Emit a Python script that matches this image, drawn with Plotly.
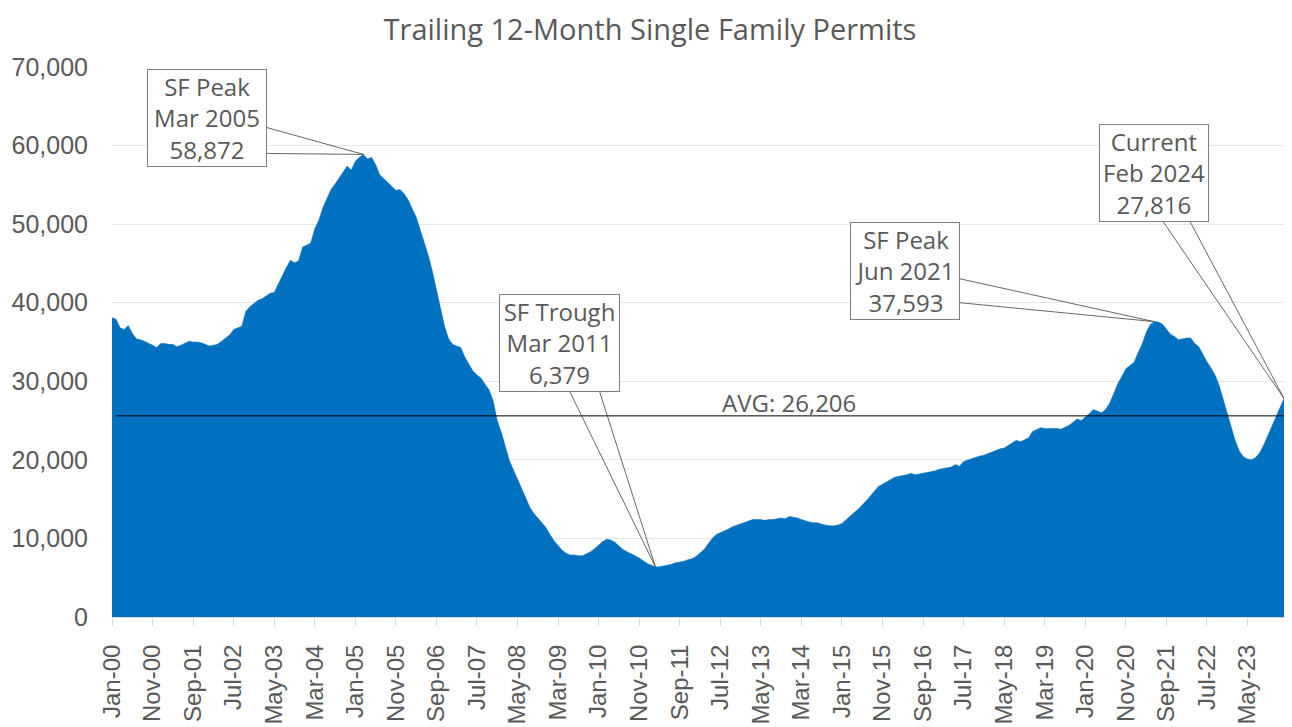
import pandas as pd
import plotly.graph_objects as go

# trailing 12-month single family permits, monthly from Jan 2000 to Feb 2024
start_month = "2000-01"
permits = [
    38100, 37900, 36800, 36600, 37100, 36100, 35400, 35300, 35100, 34900, 34600, 34300,  # 2000
    34800, 34800, 34700, 34700, 34400, 34600, 34900, 35100, 35000, 35000, 34900, 34700,  # 2001
    34500, 34600, 34700, 35100, 35500, 35900, 36600, 36800, 37000, 38900, 39500, 39900,  # 2002
    40300, 40500, 40800, 41200, 41300, 42400, 43500, 44500, 45400, 45100, 45300, 47100,  # 2003
    47300, 47600, 49400, 50500, 52100, 53300, 54400, 55100, 55900, 56600, 57400, 56900,  # 2004
    58000, 58500, 58872, 58300, 58500, 57600, 56300, 55800, 55300, 54800, 54300, 54400,  # 2005
    53900, 53100, 52100, 50900, 49300, 47700, 46000, 44000, 41800, 39400, 37000, 35400,  # 2006
    34700, 34500, 34300, 33100, 32200, 31300, 30800, 30400, 29600, 28900, 27500, 25000,  # 2007
    23500, 21800, 19900, 18700, 17600, 16300, 15200, 14000, 13200, 12600, 12000, 11400,  # 2008
    10500, 9700, 9100, 8500, 8100, 7900, 7900, 7800, 7800, 8000, 8300, 8700,  # 2009
    9200, 9600, 9900, 9800, 9500, 9000, 8600, 8300, 8100, 7800, 7500, 7100,  # 2010
    6800, 6600, 6379, 6400, 6500, 6600, 6700, 6900, 7000, 7100, 7300, 7400,  # 2011
    7700, 8100, 8600, 9300, 10000, 10500, 10700, 11000, 11200, 11500, 11700, 11900,  # 2012
    12000, 12200, 12400, 12400, 12400, 12300, 12400, 12400, 12500, 12600, 12500, 12800,  # 2013
    12700, 12600, 12400, 12200, 12100, 12000, 12000, 11800, 11700, 11600, 11600, 11700,  # 2014
    11900, 12400, 12800, 13300, 13700, 14200, 14800, 15400, 16000, 16600, 16900, 17200,  # 2015
    17500, 17800, 17900, 18000, 18100, 18300, 18100, 18200, 18300, 18400, 18500, 18600,  # 2016
    18800, 18900, 19000, 19100, 19400, 19200, 19800, 20000, 20200, 20300, 20500, 20600,  # 2017
    20800, 21000, 21300, 21400, 21500, 21800, 22100, 22500, 22300, 22500, 22800, 23600,  # 2018
    23900, 24100, 24000, 24000, 24000, 24000, 23900, 24100, 24400, 24800, 25200, 25000,  # 2019
    25400, 25900, 26400, 26200, 26000, 26400, 27200, 28400, 29700, 30600, 31600, 32000,  # 2020
    32400, 33600, 34700, 36200, 37200, 37593, 37550, 37300, 36600, 36000, 35700, 35300,  # 2021
    35400, 35500, 35500, 34800, 34400, 33400, 32500, 31700, 30800, 29500, 27800, 25900,  # 2022
    24400, 22400, 21100, 20400, 20100, 20000, 20300, 20900, 21900, 23100, 24100, 25400,  # 2023
    26600, 27816,  # 2024
]

avg_label = "AVG: 26,206"
avg_line_level = 25600  # where the average line sits in the picture

# callouts: month index, text, box offset (px), wedge base points (px, y up), box width
callouts = [
    (62, "SF Peak<br>Mar 2005<br>58,872", (-156, -36), [(-97, 27), (-97, 1)], 114),
    (134, "SF Trough<br>Mar 2011<br>6,379", (-96, -224), [(-86, 176), (-56, 176)], 115),
    (257, "SF Peak<br>Jun 2021<br>37,593", (-249, -51), [(-195, 43), (-195, 19)], 104),
    (289, "Current<br>Feb 2024<br>27,816", (-130, -225), [(-121, 177), (-94, 177)], 104),
]

months = pd.date_range(start_month, periods=len(permits), freq="MS")
month_labels = list(months.strftime("%b-%y"))
x = list(range(len(permits)))
tick_step = 10

GREY = "#595959"
fig = go.Figure()

fig.add_trace(go.Scatter(
    x=x, y=permits, mode="lines", fill="tozeroy",
    line=dict(color="#0070C0", width=0.5), fillcolor="#0070C0",
    hoverinfo="x+y", showlegend=False,
))

fig.add_trace(go.Scatter(
    x=x[1:], y=[avg_line_level] * (len(x) - 1), mode="lines",
    line=dict(color="#000000", width=1), showlegend=False, hoverinfo="skip",
))

fig.add_annotation(
    x=167, y=avg_line_level, text=avg_label, showarrow=False,
    yanchor="bottom", yshift=-5, font=dict(family="Open Sans", size=24, color=GREY),
)

for idx, text, (ax, ay), wedge, w in callouts:
    val = permits[idx]
    fig.add_annotation(
        x=idx, y=val, text=text, showarrow=True, ax=ax, ay=ay,
        arrowcolor="rgba(0,0,0,0)", arrowwidth=0.1, arrowhead=0,
        bgcolor="white", bordercolor="#7f7f7f", borderwidth=1, borderpad=2,
        width=w, height=92, align="center",
        font=dict(family="Open Sans", size=24, color=GREY),
    )
    for dx, dy in wedge:
        fig.add_shape(
            type="line", xref="x", yref="y", xsizemode="pixel", ysizemode="pixel",
            xanchor=idx, yanchor=val, x0=dx, y0=dy, x1=0, y1=0,
            line=dict(color="#404040", width=0.8),
        )

# page body has an 8px margin, so the figure is 8px smaller each way
fig.update_layout(
    width=1284, height=719,
    margin=dict(l=104, r=8, t=59, b=110, autoexpand=False),
    paper_bgcolor="white", plot_bgcolor="white",
    title=dict(text="Trailing 12-Month Single Family Permits", x=0.5, xref="container",
               xanchor="center", y=0.969, yanchor="middle",
               font=dict(family="Open Sans", size=29, color=GREY)),
)

fig.update_xaxes(
    range=[0, len(permits) - 1], automargin=False,
    tickvals=x[::tick_step], ticktext=month_labels[::tick_step],
    tickangle=-90, ticks="outside", ticklen=8, tickcolor="#d9d9d9",
    showline=True, linecolor="#d9d9d9", showgrid=False, zeroline=False,
    ticklabelstandoff=9,
    tickfont=dict(family="Liberation Sans", size=24, color=GREY),
)
fig.update_yaxes(
    range=[0, 70000], dtick=10000, tickformat=",", automargin=False,
    showgrid=True, gridcolor="#e6e6e6", zeroline=False, showline=False,
    ticklabelstandoff=23,
    tickfont=dict(family="Liberation Sans", size=25, color=GREY),
)

fig.write_html("out.html")
